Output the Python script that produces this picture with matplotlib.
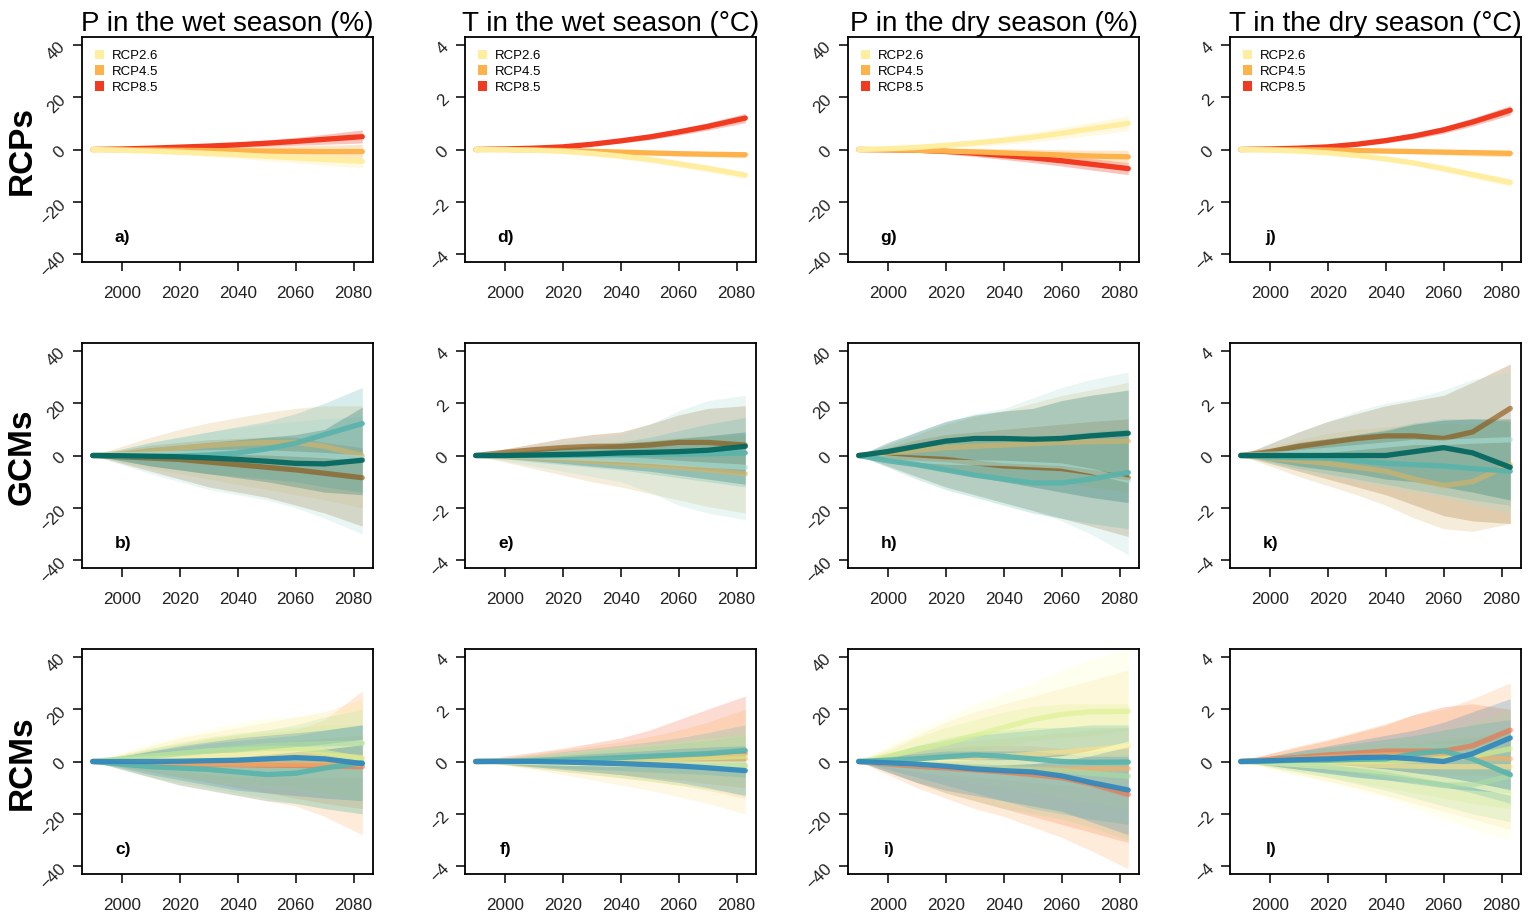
import matplotlib
matplotlib.use('Agg')
import matplotlib.pyplot as plt
from matplotlib.patches import Patch

plt.rcParams['font.family'] = ['Liberation Sans', 'DejaVu Sans']

# ---------------- data ----------------
YEARS = [1990, 2000, 2010, 2020, 2030, 2040, 2050, 2060, 2070, 2083]
X_TICKS = [2000, 2020, 2040, 2060, 2080]
P_TICKS = [-40, -20, 0, 20, 40]
T_TICKS = [-4, -2, 0, 2, 4]
COL_TITLES = ['P in the wet season (%)', 'T in the wet season (°C)',
              'P in the dry season (%)', 'T in the dry season (°C)']
COL_VAR = ['P', 'T', 'P', 'T']
ROW_LABELS = ['RCPs', 'GCMs', 'RCMs']
PANEL_LETTERS = [['a)', 'd)', 'g)', 'j)'],
                 ['b)', 'e)', 'h)', 'k)'],
                 ['c)', 'f)', 'i)', 'l)']]

RCP_NAMES = ['RCP2.6', 'RCP4.5', 'RCP8.5']
RCP_COLORS = ['#FFEDA0', '#FEB24C', '#F03B20']
GCM_COLORS = ['#8C510A', '#D8B365', '#A8DDD5', '#5AB4AC', '#01665E']
RCM_COLORS = ['#F46D43', '#FDAE61', '#FEE08B', '#FFFFBF', '#D9F08E',
              '#ABDDA4', '#5AB4AC', '#3288BD']

# ---- Row 1: RCPs (order RCP2.6, RCP4.5, RCP8.5) ----
A_MEAN = [[0, -0.3, -0.6, -1.0, -1.5, -2.0, -2.6, -3.2, -3.8, -4.5],
          [0, -0.1, -0.2, -0.3, -0.4, -0.5, -0.6, -0.7, -0.8, -0.8],
          [0, 0.2, 0.5, 0.9, 1.3, 1.8, 2.4, 3.1, 3.9, 4.9]]
A_LO = [[0, -0.6, -1.2, -1.9, -2.7, -3.4, -4.3, -5.1, -6.0, -7.0],
        [0, -0.4, -0.8, -1.2, -1.6, -2.0, -2.4, -2.8, -3.2, -3.6],
        [0, -0.1, 0.0, 0.2, 0.5, 0.8, 1.2, 1.6, 2.0, 2.5]]
A_HI = [[0, 0.0, 0.0, -0.1, -0.3, -0.6, -0.9, -1.3, -1.6, -2.0],
        [0, 0.2, 0.4, 0.6, 0.8, 1.0, 1.2, 1.4, 1.6, 2.0],
        [0, 0.5, 1.0, 1.6, 2.2, 2.8, 3.6, 4.6, 5.8, 7.5]]

D_MEAN = [[0, -0.01, -0.03, -0.07, -0.15, -0.25, -0.38, -0.55, -0.72, -0.98],
          [0, 0.0, -0.02, -0.04, -0.07, -0.10, -0.13, -0.16, -0.18, -0.20],
          [0, 0.02, 0.05, 0.10, 0.20, 0.33, 0.48, 0.67, 0.88, 1.20]]
D_LO = [[0, -0.04, -0.08, -0.14, -0.24, -0.36, -0.50, -0.68, -0.86, -1.12],
        [0, -0.03, -0.06, -0.09, -0.13, -0.17, -0.21, -0.25, -0.28, -0.32],
        [0, -0.01, 0.02, 0.06, 0.14, 0.25, 0.38, 0.55, 0.74, 1.02]]
D_HI = [[0, 0.02, 0.02, 0.0, -0.06, -0.14, -0.26, -0.42, -0.58, -0.84],
        [0, 0.03, 0.02, 0.01, -0.01, -0.03, -0.05, -0.07, -0.08, -0.08],
        [0, 0.05, 0.08, 0.14, 0.26, 0.41, 0.58, 0.79, 1.02, 1.38]]

G_MEAN = [[0, 0.3, 0.8, 1.6, 2.5, 3.5, 4.7, 6.2, 7.9, 10.0],
          [0, -0.1, -0.3, -0.6, -0.9, -1.3, -1.7, -2.1, -2.5, -2.8],
          [0, -0.1, -0.3, -0.7, -1.4, -2.3, -3.2, -4.3, -5.6, -7.3]]
G_LO = [[0, -0.1, 0.1, 0.6, 1.2, 1.9, 2.8, 4.0, 5.4, 7.2],
        [0, -0.5, -1.0, -1.6, -2.2, -2.9, -3.5, -4.1, -4.7, -5.3],
        [0, -0.5, -1.0, -1.7, -2.7, -3.8, -5.0, -6.3, -7.8, -9.6]]
G_HI = [[0, 0.7, 1.5, 2.6, 3.8, 5.1, 6.6, 8.4, 10.4, 12.8],
        [0, 0.3, 0.4, 0.4, 0.4, 0.3, 0.1, -0.1, -0.3, -0.3],
        [0, 0.3, 0.4, 0.3, 0.0, -0.8, -1.4, -2.3, -3.4, -5.0]]

J_MEAN = [[0, -0.02, -0.06, -0.13, -0.23, -0.36, -0.52, -0.73, -0.96, -1.26],
          [0, 0.0, -0.01, -0.02, -0.04, -0.06, -0.08, -0.10, -0.12, -0.15],
          [0, 0.02, 0.05, 0.10, 0.20, 0.34, 0.52, 0.75, 1.05, 1.50]]
J_LO = [[0, -0.05, -0.10, -0.19, -0.30, -0.45, -0.62, -0.85, -1.10, -1.42],
        [0, -0.03, -0.05, -0.07, -0.10, -0.13, -0.16, -0.20, -0.24, -0.28],
        [0, -0.01, 0.02, 0.05, 0.13, 0.25, 0.41, 0.62, 0.90, 1.32]]
J_HI = [[0, 0.01, -0.02, -0.07, -0.16, -0.27, -0.42, -0.61, -0.82, -1.10],
        [0, 0.03, 0.03, 0.03, 0.02, 0.01, 0.0, 0.0, 0.0, -0.02],
        [0, 0.05, 0.08, 0.15, 0.27, 0.43, 0.63, 0.88, 1.20, 1.68]]

# ---- Row 2: GCMs (brown, tan, light teal, teal, dark teal) ----
B_MEAN = [[0, -0.5, -1.0, -1.5, -2.5, -3.5, -4.5, -5.5, -6.8, -8.5],
          [0, 0.8, 1.8, 2.8, 3.8, 4.5, 5.0, 5.0, 3.5, 0.0],
          [0, 0.3, 0.5, 0.8, 1.0, 1.2, 1.0, 0.5, 0.0, -1.0],
          [0, -0.2, -0.3, -0.2, 0.2, 1.0, 2.5, 4.7, 8.0, 12.2],
          [0, -0.1, -0.3, -0.5, -0.9, -1.5, -2.2, -3.0, -3.2, -1.8]]
B_LO = [[0, -3, -6, -9, -12, -14, -16, -19, -22, -27],
        [0, -2.5, -5, -7, -9, -11, -13, -15, -17, -20],
        [0, -3.5, -7, -10, -13, -15, -17, -20, -24, -30],
        [0, -2, -4, -5.5, -7, -8, -9, -10, -12, -14],
        [0, -2, -4, -5.5, -7, -8.5, -10, -12, -14, -15]]
B_HI = [[0, 2, 4, 5, 6, 6.5, 7, 7, 5, 3],
        [0, 3.5, 7, 10, 12.5, 14.5, 16.5, 18, 19, 19],
        [0, 2.5, 5, 7, 9, 10.5, 12, 13, 14, 15],
        [0, 2.5, 5, 7, 9, 11, 13, 16, 20, 26],
        [0, 1.5, 3, 4, 5, 6, 7, 8, 10, 18.5]]

E_MEAN = [[0, 0.12, 0.22, 0.30, 0.35, 0.35, 0.40, 0.50, 0.50, 0.40],
          [0, -0.05, -0.10, -0.15, -0.22, -0.30, -0.38, -0.45, -0.55, -0.70],
          [0, -0.02, -0.05, -0.08, -0.12, -0.16, -0.22, -0.30, -0.37, -0.45],
          [0, 0.0, 0.0, 0.0, 0.02, 0.03, 0.05, 0.05, 0.06, 0.10],
          [0, 0.0, 0.02, 0.04, 0.06, 0.10, 0.12, 0.15, 0.20, 0.35]]
E_LO = [[0, -0.1, -0.15, -0.2, -0.25, -0.3, -0.35, -0.45, -0.55, -0.7],
        [0, -0.25, -0.5, -0.75, -1.0, -1.2, -1.45, -1.7, -1.95, -2.2],
        [0, -0.2, -0.4, -0.6, -0.8, -1.0, -1.4, -1.9, -2.2, -2.45],
        [0, -0.12, -0.25, -0.35, -0.45, -0.55, -0.7, -0.85, -1.0, -1.2],
        [0, -0.1, -0.2, -0.3, -0.4, -0.5, -0.6, -0.75, -0.9, -1.1]]
E_HI = [[0, 0.25, 0.45, 0.65, 0.8, 0.9, 1.2, 1.55, 1.8, 1.9],
        [0, 0.15, 0.25, 0.35, 0.45, 0.55, 0.6, 0.7, 0.75, 0.8],
        [0, 0.2, 0.35, 0.5, 0.65, 0.8, 1.2, 1.7, 2.1, 2.3],
        [0, 0.12, 0.2, 0.3, 0.4, 0.5, 0.7, 0.95, 1.2, 1.45],
        [0, 0.1, 0.2, 0.3, 0.35, 0.45, 0.55, 0.65, 0.75, 0.9]]

H_MEAN = [[0, -0.5, -1.0, -1.5, -2.8, -4.0, -4.5, -5.0, -6.5, -8.5],
          [0, 1.0, 2.0, 3.0, 3.5, 4.0, 4.5, 5.0, 5.3, 5.5],
          [0, -1.0, -1.8, -2.5, -2.8, -3.0, -3.5, -4.0, -6.0, -9.5],
          [0, -2.0, -3.5, -5.5, -7.5, -9.0, -10.5, -10.5, -9.0, -6.5],
          [0, 1.5, 3.5, 5.5, 6.5, 6.5, 6.2, 6.5, 7.5, 8.5]]
H_LO = [[0, -4, -8, -12, -15, -18, -21, -24, -27, -31],
        [0, -2, -4, -5.5, -7, -8, -9, -10, -12, -14],
        [0, -4, -8, -12, -15, -18, -21, -25, -30, -38],
        [0, -4.5, -9, -13, -16, -19, -22, -24, -26, -28],
        [0, -2, -4, -6, -8, -10, -12, -14, -16, -18]]
H_HI = [[0, 3, 6, 8, 9, 10, 11, 12, 13, 14],
        [0, 4, 8, 12, 15, 17, 20, 23, 25, 28],
        [0, 4.5, 9, 13, 16, 18, 22, 26, 29, 32],
        [0, 2, 4, 5, 5.5, 6, 7, 8, 9, 10],
        [0, 5, 9, 13, 15.5, 17, 18, 21, 23, 25]]

K_MEAN = [[0, 0.15, 0.35, 0.50, 0.65, 0.75, 0.75, 0.65, 0.90, 1.80],
          [0, -0.10, -0.20, -0.30, -0.45, -0.60, -0.90, -1.15, -1.00, -0.35],
          [0, 0.05, 0.10, 0.20, 0.30, 0.40, 0.50, 0.50, 0.55, 0.60],
          [0, -0.05, -0.08, -0.10, -0.20, -0.30, -0.35, -0.40, -0.50, -0.60],
          [0, 0.0, 0.0, 0.0, 0.0, 0.0, 0.15, 0.30, 0.10, -0.45]]
K_LO = [[0, -0.3, -0.6, -0.9, -1.2, -1.5, -1.9, -2.3, -2.5, -2.6],
        [0, -0.4, -0.8, -1.15, -1.5, -1.9, -2.4, -2.8, -2.9, -2.6],
        [0, -0.3, -0.55, -0.8, -1.0, -1.2, -1.4, -1.6, -1.9, -2.2],
        [0, -0.25, -0.5, -0.7, -0.9, -1.1, -1.3, -1.5, -1.7, -1.9],
        [0, -0.2, -0.4, -0.55, -0.7, -0.9, -1.0, -1.2, -1.4, -1.7]]
K_HI = [[0, 0.45, 0.9, 1.3, 1.6, 1.9, 2.1, 2.3, 2.8, 3.5],
        [0, 0.3, 0.6, 0.85, 1.0, 1.1, 1.2, 1.2, 1.2, 1.4],
        [0, 0.45, 0.9, 1.3, 1.7, 2.0, 2.2, 2.5, 2.9, 3.2],
        [0, 0.2, 0.4, 0.6, 0.8, 1.0, 1.25, 1.4, 1.4, 1.3],
        [0, 0.25, 0.5, 0.65, 0.8, 0.95, 1.2, 1.35, 1.4, 1.4]]

# ---- Row 3: RCMs (red, orange, yellow, pale, lime, light green, teal, blue) ----
C_MEAN = [[0, -0.3, -0.6, -0.8, -1.0, -1.2, -1.4, -1.5, -1.7, -2.0],
          [0, -0.2, -0.4, -0.6, -0.8, -1.0, -1.0, -1.0, -1.0, -1.0],
          [0, 0.5, 1.0, 1.5, 2.0, 2.5, 3.0, 3.0, 2.5, 1.5],
          [0, 0.5, 1.0, 1.5, 2.0, 2.5, 3.5, 4.5, 5.5, 7.2],
          [0, 1.0, 2.0, 3.0, 4.0, 4.5, 5.0, 5.0, 3.5, 1.0],
          [0, 1.0, 2.0, 3.0, 4.0, 5.0, 6.0, 6.5, 6.8, 7.0],
          [0, -1.0, -2.0, -2.5, -3.0, -4.0, -5.0, -4.5, -2.5, -0.5],
          [0, 0.0, 0.0, 0.1, 0.3, 0.5, 1.0, 1.5, 1.0, -0.8]]
C_LO = [[0, -2, -4, -6, -8, -10, -12, -14, -16, -18],
        [0, -3, -6, -9, -11, -13, -15, -17, -21, -28],
        [0, -2, -4, -6, -7.5, -9, -10, -11, -13, -15],
        [0, -1.5, -3, -4, -5, -6, -6, -6, -6, -6],
        [0, -2, -4, -6, -7, -8, -9, -10, -12, -15],
        [0, -3, -6, -8, -10, -12, -14, -16, -18, -20],
        [0, -3, -6, -9, -11, -13, -15, -16, -18, -20],
        [0, -2.5, -5, -7, -9, -11, -12, -13, -14, -15]]
C_HI = [[0, 1.5, 3, 4, 5, 6, 7, 8, 9, 10],
        [0, 2, 4.5, 6.5, 8.5, 10, 11, 12, 16, 27],
        [0, 3, 6, 9, 11, 13, 15, 17, 19, 24],
        [0, 3.5, 7, 10, 12.5, 15, 16.5, 17, 18, 20],
        [0, 2.5, 5, 7.5, 9.5, 11, 12, 13, 14, 14],
        [0, 2.5, 5, 7, 9, 10.5, 12, 14, 17, 20],
        [0, 2, 4, 5.5, 7, 8, 9, 10, 12, 14],
        [0, 2, 4, 6, 7.5, 9, 10, 11, 12, 14]]

F_MEAN = [[0, 0.02, 0.04, 0.06, 0.08, 0.10, 0.12, 0.15, 0.20, 0.30],
          [0, 0.01, 0.02, 0.03, 0.05, 0.06, 0.08, 0.10, 0.10, 0.10],
          [0, 0.0, -0.02, -0.04, -0.06, -0.08, -0.10, -0.12, -0.15, -0.20],
          [0, -0.02, -0.04, -0.06, -0.08, -0.10, -0.10, -0.10, -0.10, -0.10],
          [0, 0.02, 0.04, 0.05, 0.06, 0.08, 0.10, 0.12, 0.15, 0.20],
          [0, 0.0, 0.0, -0.02, -0.05, -0.08, -0.10, -0.12, -0.15, -0.15],
          [0, 0.01, 0.03, 0.06, 0.10, 0.15, 0.20, 0.25, 0.30, 0.42],
          [0, 0.0, 0.0, -0.02, -0.05, -0.08, -0.12, -0.17, -0.24, -0.35]]
F_LO = [[0, -0.1, -0.2, -0.3, -0.4, -0.5, -0.6, -0.7, -0.85, -1.0],
        [0, -0.12, -0.25, -0.38, -0.5, -0.62, -0.75, -0.9, -1.1, -1.4],
        [0, -0.15, -0.3, -0.5, -0.7, -0.9, -1.1, -1.35, -1.6, -2.0],
        [0, -0.1, -0.2, -0.35, -0.5, -0.65, -0.8, -0.95, -1.1, -1.3],
        [0, -0.1, -0.2, -0.3, -0.4, -0.5, -0.6, -0.7, -0.8, -1.0],
        [0, -0.12, -0.25, -0.38, -0.5, -0.62, -0.75, -0.9, -1.05, -1.3],
        [0, -0.1, -0.18, -0.25, -0.3, -0.35, -0.4, -0.45, -0.5, -0.6],
        [0, -0.1, -0.2, -0.3, -0.4, -0.5, -0.65, -0.8, -1.0, -1.3]]
F_HI = [[0, 0.2, 0.35, 0.5, 0.7, 0.9, 1.2, 1.6, 2.0, 2.5],
        [0, 0.15, 0.3, 0.45, 0.6, 0.75, 0.95, 1.2, 1.5, 2.0],
        [0, 0.1, 0.2, 0.3, 0.4, 0.5, 0.6, 0.7, 0.8, 1.0],
        [0, 0.12, 0.25, 0.35, 0.45, 0.55, 0.65, 0.75, 0.9, 1.0],
        [0, 0.1, 0.2, 0.3, 0.4, 0.5, 0.6, 0.75, 0.9, 1.1],
        [0, 0.1, 0.2, 0.3, 0.4, 0.5, 0.6, 0.7, 0.8, 1.0],
        [0, 0.12, 0.25, 0.38, 0.5, 0.62, 0.75, 0.9, 1.1, 1.4],
        [0, 0.08, 0.15, 0.22, 0.3, 0.36, 0.42, 0.5, 0.55, 0.6]]

I_MEAN = [[0, -1.0, -1.8, -2.5, -3.2, -4.0, -5.0, -6.2, -8.5, -12.6],
          [0, -0.5, -1.0, -1.5, -2.2, -3.0, -3.0, -3.0, -2.8, -2.7],
          [0, 0.5, 0.8, 1.0, 1.5, 2.0, 2.8, 3.5, 4.5, 5.8],
          [0, 0.0, 0.0, -0.2, -0.5, -0.5, 0.0, 1.0, 3.0, 6.5],
          [0, 2.0, 4.5, 7.0, 10.0, 13.0, 16.0, 18.0, 19.0, 19.2],
          [0, -0.5, -1.0, -1.5, -2.0, -2.5, -3.0, -3.5, -4.5, -5.6],
          [0, 0.5, 1.0, 1.8, 2.5, 2.0, 1.0, 0.0, -0.3, -0.2],
          [0, -0.5, -1.0, -1.8, -2.8, -3.5, -4.0, -5.5, -8.0, -10.9]]
I_LO = [[0, -4, -8, -12, -15, -18, -21, -24, -27, -31],
        [0, -5, -10, -14, -18, -21, -25, -29, -34, -41],
        [0, -2, -4, -6, -8, -10, -12, -14, -16, -18],
        [0, -2, -4, -5, -6, -7, -8, -9, -10, -10],
        [0, -1, 0, 2, 4, 6, 8, 9, 10, 12],
        [0, -4, -8, -12, -15, -18, -20, -22, -25, -30],
        [0, -3, -6, -9, -12, -15, -18, -20, -22, -24],
        [0, -4, -8, -11, -13, -15, -17, -19, -23, -28]]
I_HI = [[0, 2, 4, 5, 6, 6, 6, 5, 5, 5],
        [0, 3, 5, 7, 8, 9, 10, 11, 12, 13],
        [0, 5, 10, 15, 19, 22, 25, 28, 31, 35],
        [0, 6, 12, 17, 22, 26, 30, 35, 39, 43],
        [0, 4, 9, 13, 16, 19, 21, 22, 22, 22],
        [0, 3, 6, 9, 11, 12, 13, 13, 13, 13],
        [0, 3, 6, 8, 10, 11, 12, 13, 14, 14],
        [0, 2, 3, 4, 4, 4, 4, 3, 2, 2]]

L_MEAN = [[0, 0.08, 0.16, 0.25, 0.32, 0.40, 0.40, 0.40, 0.60, 1.20],
          [0, 0.05, 0.10, 0.15, 0.20, 0.25, 0.25, 0.20, 0.15, 0.10],
          [0, -0.03, -0.06, -0.10, -0.12, -0.15, -0.18, -0.20, -0.20, -0.20],
          [0, -0.05, -0.12, -0.20, -0.30, -0.40, -0.55, -0.70, -0.90, -1.20],
          [0, 0.0, 0.0, 0.0, 0.0, 0.0, 0.05, 0.10, 0.20, 0.48],
          [0, -0.05, -0.10, -0.20, -0.35, -0.50, -0.70, -0.90, -0.90, -0.55],
          [0, 0.02, 0.05, 0.05, 0.08, 0.10, 0.30, 0.40, 0.10, -0.50],
          [0, 0.03, 0.07, 0.10, 0.15, 0.17, 0.10, 0.0, 0.30, 0.90]]
L_LO = [[0, -0.1, -0.2, -0.3, -0.35, -0.4, -0.45, -0.5, -0.5, -0.6],
        [0, -0.15, -0.3, -0.4, -0.5, -0.6, -0.7, -0.8, -0.9, -1.0],
        [0, -0.25, -0.5, -0.75, -1.0, -1.3, -1.6, -1.9, -2.2, -2.6],
        [0, -0.3, -0.55, -0.8, -1.1, -1.4, -1.8, -2.2, -2.6, -3.0],
        [0, -0.2, -0.4, -0.6, -0.8, -1.0, -1.2, -1.4, -1.6, -1.8],
        [0, -0.2, -0.4, -0.6, -0.85, -1.1, -1.4, -1.7, -2.0, -2.3],
        [0, -0.15, -0.3, -0.45, -0.6, -0.7, -0.8, -0.95, -1.2, -1.6],
        [0, -0.15, -0.3, -0.45, -0.6, -0.7, -0.85, -1.0, -1.1, -1.2]]
L_HI = [[0, 0.3, 0.55, 0.8, 1.1, 1.4, 1.8, 2.1, 2.2, 2.0],
        [0, 0.3, 0.6, 0.85, 1.15, 1.45, 1.8, 2.0, 2.4, 3.0],
        [0, 0.2, 0.35, 0.5, 0.6, 0.7, 0.8, 0.9, 1.0, 1.2],
        [0, 0.15, 0.3, 0.4, 0.5, 0.6, 0.65, 0.7, 0.7, 0.6],
        [0, 0.2, 0.4, 0.55, 0.7, 0.85, 1.0, 1.2, 1.5, 2.0],
        [0, 0.15, 0.3, 0.4, 0.5, 0.6, 0.7, 0.8, 0.9, 1.2],
        [0, 0.2, 0.4, 0.55, 0.7, 0.85, 1.0, 1.2, 1.4, 1.6],
        [0, 0.2, 0.4, 0.6, 0.8, 1.0, 1.2, 1.5, 1.9, 2.4]]

PANELS = [
    [(A_MEAN, A_LO, A_HI), (D_MEAN, D_LO, D_HI), (G_MEAN, G_LO, G_HI), (J_MEAN, J_LO, J_HI)],
    [(B_MEAN, B_LO, B_HI), (E_MEAN, E_LO, E_HI), (H_MEAN, H_LO, H_HI), (K_MEAN, K_LO, K_HI)],
    [(C_MEAN, C_LO, C_HI), (F_MEAN, F_LO, F_HI), (I_MEAN, I_LO, I_HI), (L_MEAN, L_LO, L_HI)],
]
ROW_COLORS = [RCP_COLORS, GCM_COLORS, RCM_COLORS]

# ---------------- layout ----------------
W, H = 1534, 918
fig = plt.figure(figsize=(W / 100, H / 100), dpi=100)
col_left = [82, 465, 848, 1230]
row_top = [37, 343, 649]
ax_w, ax_h = 291, 225

for r in range(3):
    for c in range(4):
        ax = fig.add_axes([col_left[c] / W, 1 - (row_top[r] + ax_h) / H, ax_w / W, ax_h / H])
        mean, lo, hi = PANELS[r][c]
        colors = ROW_COLORS[r]
        n = len(mean)
        if r == 0:
            order = [2, 1, 0]
            band_alpha = 0.3
        else:
            order = list(range(n))
            band_alpha = 0.24
        for k in order:
            ax.fill_between(YEARS, lo[k], hi[k], color=colors[k], alpha=band_alpha, lw=0)
        for k in order:
            if r == 0:
                la = 1.0
            else:
                la = 0.92 if k >= n - 2 else 0.62
            ax.plot(YEARS, mean[k], color=colors[k], lw=3.8, alpha=la,
                    solid_capstyle='round', solid_joinstyle='round')
        if COL_VAR[c] == 'P':
            ax.set_ylim(-43, 43)
            ax.set_yticks(P_TICKS)
        else:
            ax.set_ylim(-4.3, 4.3)
            ax.set_yticks(T_TICKS)
        ax.set_xlim(1986.3, 2086.7)
        ax.set_xticks(X_TICKS)
        ax.tick_params(axis='both', direction='out', length=6.5, width=1.1,
                       labelsize=12.3, labelcolor='#222222')
        ax.tick_params(axis='x', pad=11)
        ax.tick_params(axis='y', pad=7)
        for lab in ax.get_yticklabels():
            lab.set_rotation(45)
            lab.set_rotation_mode('anchor')
            lab.set_ha('right')
            lab.set_va('center')
        for sp in ax.spines.values():
            sp.set_linewidth(1.3)
        ax.text(0.14, 0.11, PANEL_LETTERS[r][c], transform=ax.transAxes,
                fontsize=12.5, fontweight='bold', ha='center', va='center')
        if r == 0:
            ax.set_title(COL_TITLES[c], fontsize=20, pad=3)
            handles = [Patch(facecolor=col, edgecolor='none') for col in RCP_COLORS]
            ax.legend(handles, RCP_NAMES, loc='upper left', frameon=False, fontsize=9.5,
                      handlelength=0.7, handleheight=0.7, handletextpad=0.6,
                      labelspacing=0.28, borderpad=0.0, borderaxespad=0.95)

for r in range(3):
    fig.text(22 / W, 1 - (row_top[r] + ax_h / 2 + 1) / H, ROW_LABELS[r], rotation=90,
             fontsize=24, fontweight='bold', ha='center', va='center')

fig.savefig('out.png', dpi=100, facecolor='white')
